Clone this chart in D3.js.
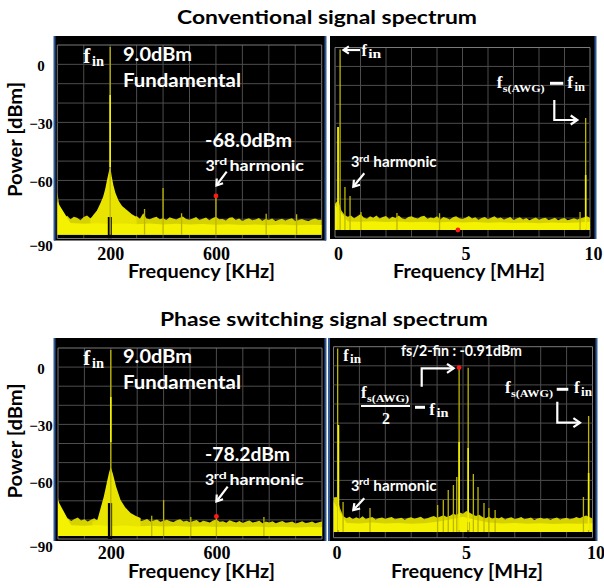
<!DOCTYPE html>
<html><head><meta charset="utf-8">
<script src="https://cdn.jsdelivr.net/npm/d3@7"></script>
<style>body{margin:0;background:#fff}</style>
</head><body><svg id="c" width="604" height="588"></svg>
<script>
// ---------------- DATA ----------------
const yTicks = [0, -30, -60, -90];
const kHzTicks = [200, 600];
const MHzTicks = [0, 5, 10];

// Top-left: conventional, 0..1000 kHz
const TL_floorTop = [-66, -77.6, -79.4, -78.2, -80.1, -78.8, -79.3, -80.6, -78.9, -78.1, -79.5, -78.4, -79.9, -79.1, -78.6, -79.8, -78.9, -79.3, -78.5, -80,
 -79.2, -78.7, -80.3, -79.5, -78.4, -79.8, -77, -79.6, -80.1, -79.3, -78.8, -80, -79.5, -80.4, -79, -79.7, -80.2, -79.3, -78.6, -79.9,
 -80.3, -79.6, -78.9, -80.5, -79.8, -79.2, -80.6, -79.4, -78.7, -80.1, -79.9, -80.7, -79.3, -79, -80.4, -79.7, -80.9, -80, -79.5, -80.6,
 -80.2, -79.4, -80.8, -79.9, -80.5, -79.6, -81, -80.3, -79.8, -80.7, -80.1, -79.5, -80.9, -80.4, -79.9, -80.6, -81, -80.2, -79.7, -80.5, -80.3];
const TL_core = [-71, -82, -82.4, -82.1, -82.5, -82.2, -82.6, -82.3, -82.7, -82.4, -82.8, -82.5, -82.9, -82.6, -83, -82.7, -83.1, -82.8, -83.2, -82.9, -83];
const TL_floorBottom = -88;
const TL_skirtF = [125, 136, 150, 162, 173, 181, 188, 194, 198, 200, 202, 206, 212, 220, 232, 245, 263, 282, 300];
const TL_skirtV = [-80, -77.9, -75.5, -72, -68.6, -64.5, -59.8, -56, -53.8, -53, -54.5, -58, -62.4, -66.5, -70.5, -73.2, -75.3, -77.5, -78.9];
const TL_notchF = [191, 206];
const TL_notchTop = -78.9;
const TL_spikeF = [200, 330, 400, 470, 600, 790, 905];
const TL_spikeTop = [9, -74.8, -63.9, -77, -68, -77.2, -77.5];
const TL_brightF = [200];
const TL_brightTop = [-15.8];
const TL_brightBot = [-53];
const TL_marker = [600, -68];

// Top-right: conventional, 0..10 MHz
const TR_floorTop = [-72.5, -70.5, -76, -78.4, -79.3, -78.6, -80.1, -79, -77.9, -79.7, -80.4, -79.1, -79.8, -78.6, -80.2, -79.5, -78.9, -80.5, -79.3, -80,
 -78.7, -80.1, -80.6, -79.4, -79, -79.9, -80.3, -79.2, -78.8, -80.4, -79.7, -80.1, -79.1, -80.7, -79.5, -80, -80.8, -79.6, -79, -80.1,
 -80.5, -79.8, -78.9, -80.3, -79.6, -80.9, -80, -79.4, -80.6, -79.9, -79.1, -80.2, -79.7, -80.8, -80.1, -79.5, -81, -80.3, -79.6, -80.7,
 -80, -81.1, -80.4, -79.7, -80.9, -80.2, -79.8, -81, -80.5, -79.9, -81.1, -80.4, -80, -81.2, -80.6, -80.1, -80.8, -80.3, -79.7, -79, -79.8];
const TR_core = [-73, -81.8, -82, -81.7, -82.1, -81.8, -82.2, -81.9, -82.3, -82, -82.4, -82.1, -82.5, -82.2, -82.6, -82.3, -82.7, -82.4, -82.6, -82.3, -82];
const TR_floorBottom = -86.3;
const TR_spikeF = [0.12, 0.2, 0.39, 0.59, 1.02, 2.43, 4.1, 9.61, 9.83];
const TR_spikeTop = [-32, 9, -63.6, -68.4, -76.8, -77.3, -77.5, -76.8, -27.2];
const TR_brightF = [0.12, 9.83];
const TR_brightTop = [-32, -57.3];
const TR_brightBot = [-86, -86];
const TR_marker = [4.82, -86.3];

// Bottom-left: phase switching, 0..1000 kHz
const BL_floorTop = [-68.5, -78.4, -80, -79.2, -80.6, -79.5, -78.8, -80.3, -79.6, -80.8, -79.9, -79.1, -80.4, -79.7, -80.9, -79.4, -80.2, -79.8, -80.6, -79.3,
 -80.5, -79.9, -80.8, -80.1, -79.6, -80.7, -80.2, -79.5, -80.9, -80.3, -79.8, -81, -80.4, -79.9, -80.7, -81.1, -80.2, -79.7, -80.8, -80.5,
 -81.2, -80.6, -80, -81.3, -80.4, -80.9, -81.4, -80.3, -79.8, -81, -80.7, -81.5, -80.2, -80.8, -81.3, -80.6, -81.6, -80.9, -80.3, -81.4,
 -81, -80.5, -81.7, -80.8, -81.3, -80.7, -81.8, -81.1, -80.6, -81.5, -81.2, -80.8, -81.9, -81.3, -80.7, -81.6, -81.4, -80.9, -81.7, -81.2, -80.8];
const BL_core = [-70, -82.8, -83.1, -82.7, -83.3, -82.9, -83.4, -83, -83.5, -83.2, -83.6, -83.3, -83.7, -83.4, -83.8, -83.5, -83.9, -83.6, -84, -83.7, -83.8];
const BL_floorBottom = -88.4;
const BL_skirtF = [130, 149, 160, 173, 181, 187, 193, 197, 200, 203, 207, 211, 220, 237, 255, 275, 295, 313];
const BL_skirtV = [-81, -80, -74.5, -68, -63, -59.1, -55.5, -53.5, -52.3, -53.8, -55.5, -57.5, -62.5, -69.6, -73.5, -76.4, -78, -79];
const BL_notchF = [189, 205];
const BL_notchTop = -71.2;
const BL_spikeF = [200, 355, 400, 503, 600, 780];
const BL_spikeTop = [9, -77.8, -69.6, -78.5, -78.2, -78.5];
const BL_brightF = [200];
const BL_brightTop = [-15.7];
const BL_brightBot = [-39.2];
const BL_marker = [600, -78.2];

// Bottom-right: phase switching, 0..10 MHz
const BR_floorTop = [-69, -68.7, -74.5, -78.6, -79.8, -79, -80.3, -79.3, -80.1, -78.8, -80.4, -79.6, -79.2, -80.5, -79.8, -79.4, -80.2, -79.6, -79.1, -80.4,
 -79.9, -79.5, -80.6, -79.7, -79.3, -80.1, -79.6, -79, -80.3, -79.8, -79.2, -78.6, -79.5, -78.9, -78.2, -79.2, -78.5, -77.4, -78.1, -76.8,
 -77.5, -76, -76.8, -77.9, -78.6, -78, -79.1, -79.8, -78.9, -80.1, -79.4, -80, -79.2, -80.5, -79.7, -79.3, -80.3, -79.8, -79.1, -80.4,
 -79.9, -79.4, -80.7, -79.9, -79.5, -80.2, -79.8, -80.6, -80, -79.4, -80.5, -80, -79.5, -80.3, -79.9, -79.2, -79.8, -79, -78.4, -79.2, -80];
const BR_core = [-71, -82.3, -82.5, -82.1, -82.6, -82.3, -82.7, -82.4, -81.7, -80.5, -79, -80.7, -82.1, -82.5, -82.3, -82.7, -82.4, -82.8, -82.5, -82.7, -82.4];
const BR_floorBottom = -87;
const BR_notchF = [5.17, 5.24];
const BR_notchTop = -81.8;
const BR_spikeF = [0.16, 0.19, 0.37, 1.41, 4.02, 4.24, 4.43, 4.63, 4.76, 4.85, 5.2, 5.4, 5.58, 5.81, 6.0, 6.24, 9.65, 9.85];
const BR_spikeTop = [9, -31, -71.3, -74.5, -72.9, -70.3, -65, -62.4, -58.2, -0.91, -1.0, -56.6, -63.5, -71.8, -74.5, -75.5, -68.7, -26.3];
const BR_brightF = [0.19, 4.85, 5.2, 9.85];
const BR_brightTop = [-31, -39.9, -43, -56.1];
const BR_brightBot = [-86, -86, -86, -86];
const BR_marker = [4.85, -0.91];

// ---------------- DRAWING ----------------
const svg = d3.select('#c');
const SANS = 'Lato, "Open Sans", "DejaVu Sans", sans-serif';
const SERIF = '"Liberation Serif", "DejaVu Serif", serif';
const YEL = '#f4f200', OLIVE = '#d6d200', SPIKE = '#bdb600';

function txt(g, s, x, y, size, o = {}) {
  const t = g.append('text').attr('x', x).attr('y', y).text(s)
    .attr('font-family', o.serif ? SERIF : SANS).attr('font-weight', 'bold')
    .attr('font-size', size).attr('fill', o.fill || '#fff');
  if (o.len) t.attr('textLength', o.len).attr('lengthAdjust', 'spacingAndGlyphs');
  if (o.anchor) t.attr('text-anchor', o.anchor);
  return t;
}
function arrow(g, pts, head = 7) {
  g.append('path').attr('d', d3.line()(pts)).attr('fill', 'none')
    .attr('stroke', '#fff').attr('stroke-width', 2.2).attr('stroke-linejoin', 'miter');
  const [a, b] = pts.slice(-2);
  const ang = Math.atan2(b[1] - a[1], b[0] - a[0]);
  const h1 = [b[0] - head * Math.cos(ang - 0.6), b[1] - head * Math.sin(ang - 0.6)];
  const h2 = [b[0] - head * Math.cos(ang + 0.6), b[1] - head * Math.sin(ang + 0.6)];
  g.append('path').attr('d', d3.line()([h1, b, h2])).attr('fill', 'none')
    .attr('stroke', '#fff').attr('stroke-width', 2.2);
}
function fin(g, x, y, fs, ss, inLen) {
  txt(g, 'f', x, y, fs, { serif: true });
  txt(g, 'in', x + fs * 0.42, y + fs * 0.13, ss, { serif: true, len: inLen });
}
function fsAwg(g, x, y, fs) {
  txt(g, 'f', x, y, fs, { serif: true });
  txt(g, 's(AWG)', x + 6, y + 4, 11, { serif: true, len: 42 });
}
function third(g, x, y, size, supLen, harmX, harmLen) {
  txt(g, '3', x, y, size);
  txt(g, 'rd', x + size * 0.55, y - size * 0.38, size * 0.62, { len: supLen });
  txt(g, 'harmonic', harmX, y, size, { len: harmLen });
}

let clipId = 0;
function drawPanel(p) {
  const g = svg.append('g');
  const x = d3.scaleLinear().domain(p.xDomain).range([p.gx0, p.gx1]);
  const y = d3.scaleLinear().domain([-90, 10]).range([p.gy1, p.gy0]);
  g.append('rect').attr('x', p.bx0).attr('y', p.by0).attr('width', p.bx1 - p.bx0)
    .attr('height', p.by1 - p.by0).attr('fill', '#000');
  p.blue.forEach(bx => g.append('line').attr('x1', bx).attr('x2', bx).attr('y1', p.by0)
    .attr('y2', p.by1).attr('stroke', '#2e5896').attr('stroke-width', 2));
  // grid
  const xs = d3.range(11).map(i => p.xDomain[0] + i * (p.xDomain[1] - p.xDomain[0]) / 10);
  const ys = d3.range(-90, 11, 10);
  g.selectAll(null).data(xs).join('line').attr('x1', d => x(d)).attr('x2', d => x(d))
    .attr('y1', p.gy0).attr('y2', p.gy1)
    .attr('stroke', (d, i) => (i === 0 || i === 10) ? '#7a7a7a' : '#4d4d4d').attr('stroke-width', 1);
  g.selectAll(null).data(ys).join('line').attr('y1', d => y(d)).attr('y2', d => y(d))
    .attr('x1', p.gx0).attr('x2', p.gx1)
    .attr('stroke', (d, i) => (i === 0 || i === 10) ? '#7a7a7a' : '#4d4d4d').attr('stroke-width', 1);

  const cid = 'clip' + (clipId++);
  g.append('clipPath').attr('id', cid).append('rect').attr('x', p.gx0).attr('y', p.gy0)
    .attr('width', p.gx1 - p.gx0).attr('height', p.gy1 - p.gy0);
  const d = g.append('g').attr('clip-path', `url(#${cid})`);
  const span = p.xDomain[1] - p.xDomain[0];
  const area = d3.area().x(v => x(v[0])).y0(y(p.floorBottom)).y1(v => y(v[1]));
  const outer = p.floorTop.map((v, i) => [p.xDomain[0] + i * span / (p.floorTop.length - 1), v]);
  d.append('path').attr('d', area(outer)).attr('fill', OLIVE);
  if (p.skirtF) {
    const sk = p.skirtF.map((f, i) => [f, p.skirtV[i]]);
    d.append('path').attr('d', area(sk)).attr('fill', '#e8e400');
  }
  const core = p.core.map((v, i) => [p.xDomain[0] + i * span / (p.core.length - 1), v]);
  d.append('path').attr('d', area(core)).attr('fill', YEL);
  if (p.notchF) {
    d.append('rect').attr('x', x(p.notchF[0])).attr('width', x(p.notchF[1]) - x(p.notchF[0]))
      .attr('y', y(p.notchTop)).attr('height', y(-90) - y(p.notchTop)).attr('fill', '#000');
  }
  d.selectAll(null).data(p.spikeF).join('line')
    .attr('x1', f => x(f)).attr('x2', f => x(f))
    .attr('y1', y(p.floorBottom)).attr('y2', (f, i) => y(p.spikeTop[i]))
    .attr('stroke', SPIKE).attr('stroke-width', 1.3);
  d.selectAll(null).data(p.brightF).join('line')
    .attr('x1', f => x(f)).attr('x2', f => x(f))
    .attr('y1', (f, i) => y(p.brightBot[i])).attr('y2', (f, i) => y(p.brightTop[i]))
    .attr('stroke', '#f4f200').attr('stroke-width', 1.6);
  g.append('circle').attr('cx', x(p.marker[0])).attr('cy', y(p.marker[1])).attr('r', 2.4).attr('fill', '#ff1a1a');

  // axes labels
  const ax = g.append('g').attr('transform', `translate(0,${p.gy1})`)
    .call(d3.axisBottom(x).tickValues(p.xTicks).tickSize(0).tickFormat(d3.format('d')));
  ax.select('.domain').remove();
  ax.selectAll('text').attr('y', p.xLabBase - p.gy1).attr('dy', 0).attr('dx', p.xLabDx)
    .attr('font-family', SERIF).attr('font-weight', 'bold').attr('font-size', 18).attr('fill', '#000');
  if (p.yAxis) {
    const ay = g.append('g').attr('transform', `translate(${p.gx0},0)`)
      .call(d3.axisLeft(y).tickValues(yTicks).tickSize(0).tickFormat(d3.format('d')));
    ay.select('.domain').remove();
    ay.selectAll('text').attr('x', 41 - p.gx0).attr('dy', v => v === -90 ? 12 : 6)
      .attr('text-anchor', 'middle')
      .attr('font-family', SERIF).attr('font-weight', 'bold').attr('font-size', 15).attr('fill', '#000');
  }
  return { g, x, y };
}

const TL = drawPanel({ xDomain: [0, 1000], gx0: 57.3, gx1: 321.7, gy0: 45, gy1: 238.5,
  bx0: 54, bx1: 326, by0: 36, by1: 240.5, blue: [54.5, 325.5],
  floorTop: TL_floorTop, core: TL_core, floorBottom: TL_floorBottom, skirtF: TL_skirtF, skirtV: TL_skirtV,
  notchF: TL_notchF, notchTop: TL_notchTop, spikeF: TL_spikeF, spikeTop: TL_spikeTop,
  brightF: TL_brightF, brightTop: TL_brightTop, brightBot: TL_brightBot, marker: TL_marker,
  xTicks: kHzTicks, xLabBase: 260, xLabDx: 0, yAxis: true });
const TR = drawPanel({ xDomain: [0, 10], gx0: 335, gx1: 590, gy0: 47.5, gy1: 237,
  bx0: 330, bx1: 595, by0: 36, by1: 239, blue: [595.5],
  floorTop: TR_floorTop, core: TR_core, floorBottom: TR_floorBottom,
  spikeF: TR_spikeF, spikeTop: TR_spikeTop,
  brightF: TR_brightF, brightTop: TR_brightTop, brightBot: TR_brightBot, marker: TR_marker,
  xTicks: MHzTicks, xLabBase: 260, xLabDx: 3, yAxis: false });
const BL = drawPanel({ xDomain: [0, 1000], gx0: 58, gx1: 322, gy0: 348, gy1: 539,
  bx0: 54, bx1: 326, by0: 338, by1: 541, blue: [54.5, 325.5],
  floorTop: BL_floorTop, core: BL_core, floorBottom: BL_floorBottom, skirtF: BL_skirtF, skirtV: BL_skirtV,
  notchF: BL_notchF, notchTop: BL_notchTop, spikeF: BL_spikeF, spikeTop: BL_spikeTop,
  brightF: BL_brightF, brightTop: BL_brightTop, brightBot: BL_brightBot, marker: BL_marker,
  xTicks: kHzTicks, xLabBase: 559, xLabDx: 0, yAxis: true });
const BR = drawPanel({ xDomain: [0, 10], gx0: 333.5, gx1: 592.5, gy0: 346.7, gy1: 537.7,
  bx0: 329, bx1: 596, by0: 338, by1: 541, blue: [329, 596.5],
  floorTop: BR_floorTop, core: BR_core, floorBottom: BR_floorBottom,
  notchF: BR_notchF, notchTop: BR_notchTop, spikeF: BR_spikeF, spikeTop: BR_spikeTop,
  brightF: BR_brightF, brightTop: BR_brightTop, brightBot: BR_brightBot, marker: BR_marker,
  xTicks: MHzTicks, xLabBase: 559, xLabDx: 3, yAxis: false });

// ---------------- TEXT ----------------
const T = svg.append('g');
txt(T, 'Conventional signal spectrum', 177, 24, 19.5, { fill: '#000', len: 300 });
txt(T, 'Phase switching signal spectrum', 160, 326, 19.5, { fill: '#000', len: 328 });
[[139.5], [441]].forEach(([cy]) => {
  T.append('text').attr('transform', `translate(21.5,${cy}) rotate(-90)`).attr('text-anchor', 'middle')
    .attr('font-family', SANS).attr('font-weight', 'bold').attr('font-size', 18).attr('fill', '#000')
    .attr('textLength', 115).attr('lengthAdjust', 'spacingAndGlyphs').text('Power [dBm]');
});
txt(T, 'Frequency [KHz]', 128, 278, 18.5, { fill: '#000', len: 147 });
txt(T, 'Frequency [MHz]', 393, 278, 18.5, { fill: '#000', len: 152 });
txt(T, 'Frequency [KHz]', 128, 578, 18.5, { fill: '#000', len: 147 });
txt(T, 'Frequency [MHz]', 391, 578, 18.5, { fill: '#000', len: 152 });

// Top-left annotations
fin(T, 83.3, 63.3, 21, 15, 12);
txt(T, '9.0dBm', 123, 61, 18, { len: 69 });
txt(T, 'Fundamental', 123, 86.7, 18, { len: 118 });
txt(T, '-68.0dBm', 205, 146.7, 18, { len: 87 });
third(T, 205.5, 170.7, 16, 13, 229.5, 74.5);
arrow(T, [[226.7, 171.7], [TL.x(TL_marker[0]) + 0.5, TL.y(TL_marker[1]) - 10.5]]);

// Top-right annotations
arrow(T, [[360, 50], [343.5, 50]], 6.5);
fin(T, 361.5, 55.5, 16, 12, 13);
third(T, 351, 167.3, 14.5, 10.5, 373.3, 63.4);
arrow(T, [[364.3, 173.3], [353.3, 186.7]]);
fsAwg(T, 496.7, 88.3, 17);
T.append('line').attr('x1', 550).attr('x2', 563.3).attr('y1', 83.3).attr('y2', 83.3).attr('stroke', '#fff').attr('stroke-width', 3);
fin(T, 567.3, 88.3, 17, 12, 10.5);
arrow(T, [[554.3, 100], [554.3, 120], [577.3, 120]], 8);

// Bottom-left annotations
fin(T, 83.3, 365, 21, 15, 12);
txt(T, '9.0dBm', 123, 363.3, 18, { len: 69 });
txt(T, 'Fundamental', 123, 389.3, 18, { len: 118 });
txt(T, '-78.2dBm', 205, 460.7, 18, { len: 85 });
third(T, 205, 485, 16, 13, 229.5, 74);
arrow(T, [[227.7, 486.7], [BL.x(BL_marker[0]), BL.y(BL_marker[1]) - 15]]);

// Bottom-right annotations
fin(T, 343.3, 360.7, 16, 12, 11);
txt(T, 'fs/2-fin : -0.91dBm', 401, 356, 14.5, { len: 121 });
arrow(T, [[421.7, 386.7], [421.7, 368.3], [BR.x(BR_marker[0]) - 5.5, 368.3]], 8);
fsAwg(T, 361, 398.3, 17);
T.append('line').attr('x1', 361).attr('x2', 410).attr('y1', 406).attr('y2', 406).attr('stroke', '#fff').attr('stroke-width', 1.8);
txt(T, '2', 386, 424, 16, { serif: true, anchor: 'middle' });
T.append('line').attr('x1', 415).attr('x2', 425).attr('y1', 407.3).attr('y2', 407.3).attr('stroke', '#fff').attr('stroke-width', 3);
fin(T, 429.3, 415, 17, 12, 12);
fsAwg(T, 505, 393.3, 17);
T.append('line').attr('x1', 556.7).attr('x2', 568.3).attr('y1', 389.3).attr('y2', 389.3).attr('stroke', '#fff').attr('stroke-width', 3);
fin(T, 574, 393.3, 17, 12, 11);
arrow(T, [[557.3, 401.7], [557.3, 422.7], [580, 422.7]], 8);
third(T, 351, 490.7, 14.5, 10.5, 373.3, 63.4);
arrow(T, [[364.3, 498.3], [353.3, 510]]);
</script>
</body></html>
